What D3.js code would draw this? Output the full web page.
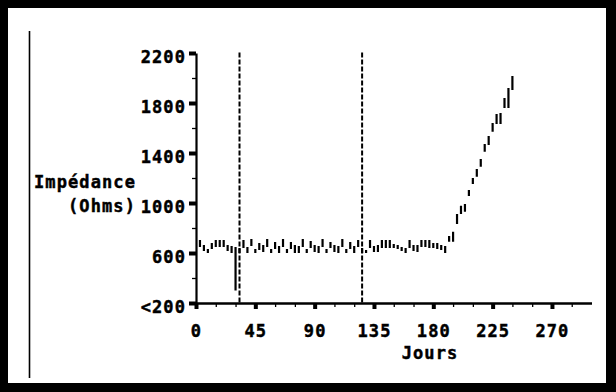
<!DOCTYPE html>
<html><head><meta charset="utf-8">
<script src="https://cdn.jsdelivr.net/npm/d3@7"></script>
<style>
body{margin:0;background:#fff;}
svg text{font-family:"DejaVu Sans Mono",monospace;font-weight:bold;font-size:17px;letter-spacing:1.1px;fill:#000;stroke:#000;stroke-width:0.45px;}
</style></head>
<body><svg id="c" width="616" height="392"></svg>
<script>
// ---- data ----
const days = [3,6,9,12,15,18,21,24,27,30,33,36,39,42,45,48,51,54,57,60,63,66,69,72,75,78,81,84,87,90,93,96,99,102,105,108,111,114,117,120,123,126,129,132,135,138,141,144,147,150,153,156,159,162,165,168,171,174,177,180,183,186,189,
  192,195,198,201,204,207,210,213,216,219,222,225,228,231,234,237,240];
const lows = [648,616,600,632,648,648,648,616,600,300,600,640,600,656,600,624,608,648,600,632,600,648,600,632,600,600,648,600,640,608,600,648,600,640,608,600,648,600,632,600,648,600,600,640,608,608,640,640,640,640,632,616,600,640,616,608,648,648,640,640,632,624,600,
  690,690,832,912,930,1056,1152,1210,1290,1410,1464,1570,1632,1632,1760,1760,1904];
const highs = [704,664,632,680,704,704,704,664,656,648,640,704,648,712,632,680,664,712,632,688,656,712,632,688,664,656,712,632,696,664,656,712,632,688,664,656,712,632,688,656,704,640,624,704,656,664,704,704,704,672,664,648,640,704,664,664,704,704,704,680,680,664,656,
  736,770,912,978,992,1104,1200,1272,1352,1472,1536,1640,1712,1720,1840,1920,2016];
const eventDays = [33, 126];
const xMajor = [0,45,90,135,180,225,270];
const xMinor = [15,30,60,75,105,120,150,165,195,210,240,255,285];
const yMajor = [200,600,1000,1400,1800,2200];
const yMajorLabels = ["<200","600","1000","1400","1800","2200"];
const yMinor = [400,800,1200,1600,2000];
const yTitle = ["Impédance","(Ohms)"];
const xTitle = "Jours";

// ---- drawing ----
const svg = d3.select("#c");
svg.append("rect").attr("x",0).attr("y",0).attr("width",616).attr("height",392).attr("fill","#000");
svg.append("rect").attr("x",8).attr("y",8).attr("width",598).attr("height",375).attr("fill","#fff");
svg.append("line").attr("x1",29.5).attr("x2",29.5).attr("y1",31).attr("y2",378).attr("stroke","#000").attr("stroke-width",1.6);

const x = d3.scaleLinear().domain([0,300]).range([196, 591.5]);
const y = d3.scaleLinear().domain([200,2200]).range([303, 53]);

// y axis minor
const gyMin = svg.append("g").attr("transform","translate(196,0)")
  .call(d3.axisLeft(y).tickValues(yMinor).tickSize(4).tickFormat(""));
gyMin.select(".domain").remove();
gyMin.selectAll(".tick line").attr("stroke-width",1.3);
// y axis major
const gy = svg.append("g").attr("transform","translate(196,0)")
  .call(d3.axisLeft(y).tickValues(yMajor).tickSize(7).tickSizeOuter(0).tickPadding(3)
    .tickFormat((d,i)=>yMajorLabels[i]));
gy.select(".domain").attr("stroke-width",2.2);
gy.selectAll(".tick line").attr("stroke-width",4);
gy.selectAll(".tick text").attr("dy","0.55em").style("font-family","DejaVu Sans Mono").style("font-size","17px");

// x axis minor
const gxMin = svg.append("g").attr("transform","translate(0,303)")
  .call(d3.axisBottom(x).tickValues(xMinor).tickSize(4).tickFormat(""));
gxMin.select(".domain").remove();
gxMin.selectAll(".tick line").attr("stroke-width",1.3);
// x axis major
const gx = svg.append("g").attr("transform","translate(0,303)")
  .call(d3.axisBottom(x).tickValues(xMajor).tickSize(6).tickSizeOuter(0).tickPadding(16));
gx.select(".domain").attr("stroke-width",2.6);
gx.selectAll(".tick line").attr("stroke-width",4);
gx.selectAll(".tick text").style("font-family","DejaVu Sans Mono").style("font-size","17px");

// event dashed lines
svg.selectAll(".ev").data(eventDays).join("line").attr("class","ev")
  .attr("x1",d=>x(d)).attr("x2",d=>x(d)).attr("y1",y(2205)).attr("y2",y(200))
  .attr("stroke","#000").attr("stroke-width",2).attr("stroke-dasharray","5,2");

// measurement bars
svg.selectAll(".bar").data(days).join("line").attr("class","bar")
  .attr("x1",d=>x(d)).attr("x2",d=>x(d))
  .attr("y1",(d,i)=>y(lows[i])).attr("y2",(d,i)=>y(highs[i]))
  .attr("stroke","#000").attr("stroke-width",2.2);

// titles
svg.append("text").attr("x",136).attr("y",188).attr("text-anchor","end").text(yTitle[0]);
svg.append("text").attr("x",136).attr("y",212).attr("text-anchor","end").text(yTitle[1]);
svg.append("text").attr("x",430).attr("y",359).attr("text-anchor","middle").text(xTitle);
</script></body></html>
